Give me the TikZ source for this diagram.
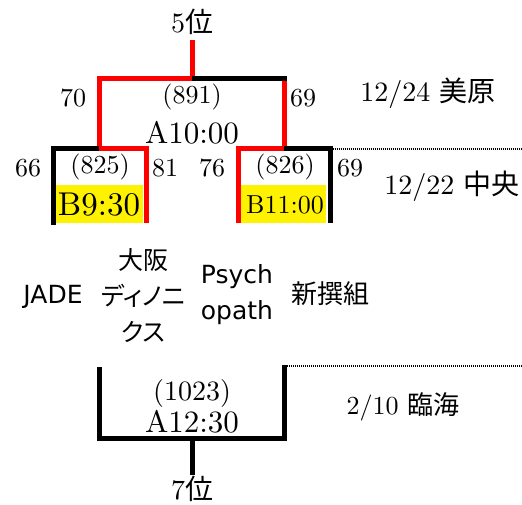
\documentclass[tikz,border=0pt]{standalone}
\usepackage{fontspec}
\setmainfont{lmroman10-regular.otf}
\newfontfamily\jp{Noto Sans CJK JP}
\newfontfamily\jpnarrow[RawFeature=+palt]{Noto Sans CJK JP}
\newfontfamily\latinsans{DejaVu Sans}
\tikzset{
  win/.style={red, line width=5pt},
  lose/.style={black, line width=5pt},
  dayline/.style={black, line width=1.6pt, dash pattern=on 1pt off 1pt},
  score/.style={inner sep=0pt, font=\fontsize{26}{28}\selectfont},
  match/.style={inner sep=0pt, font=\fontsize{31}{33}\selectfont},
  place/.style={inner sep=0pt, font=\fontsize{28}{30}\selectfont},
  team/.style={inner sep=0pt, align=center, font=\jp\fontsize{25}{36}\selectfont},
}
\begin{document}
\begin{tikzpicture}[x=1pt, y=-1pt]
\useasboundingbox (0,0) rectangle (522,505);

% yellow boxes
\fill[yellow] (56,185) rectangle (143,223);
\fill[yellow] (241,185) rectangle (326,223);

% corners of the brackets
\coordinate (top) at (192,43);
\coordinate (fmid) at (192,79);
\coordinate (fl) at (99,79);
\coordinate (fr) at (284,79);
\coordinate (lmid) at (99,149);
\coordinate (rmid) at (284,149);
\coordinate (ltl) at (53,149);
\coordinate (lbl) at (53,223);
\coordinate (ltr) at (146,149);
\coordinate (lbr) at (146,223);
\coordinate (rtl) at (238,149);
\coordinate (rbl) at (238,223);
\coordinate (rtr) at (330,149);
\coordinate (rbr) at (330,223);

% Top bracket (12/24)
\draw[win, line cap=rect] (top) -- (fmid) -- (fl) -- (lmid);
\draw[win] ([yshift=2.5]fr) -- (rmid);
\draw[lose] (fmid) -- ([xshift=2.5]fr);

% Left box (825)
\draw[lose, line cap=rect] (lbl) -- (ltl) -- (lmid);
\draw[win] (lmid) -- (ltr) -- (lbr);

% Right box (826)
\draw[win] (rbl) -- (rtl) -- (rmid);
\draw[lose] (rmid) -- (rtr) -- (rbr);

% day lines
\coordinate (d1) at (522,149);
\coordinate (d2a) at (287,366);
\coordinate (d2) at (522,366);
\draw[dayline] ([xshift=2.5]rtr) -- (d1);
\draw[dayline] (d2a) -- (d2);

\node (rank5) at (192,22) [place] {5{\jp 位}};
\node (s70) at (73,98) [score] {70};
\node (s69a) at (303,98) [score] {69};
\node (g891) at (192,97) [score] {(891)};
\node (tA1) at (192,133) [match] {A10:00};
\node (day1) at (428,93) [place] {12/24 {\jp 美原}};

\node (s66) at (28,168) [score] {66};
\node (g825) at (100,167) [score] {(825)};
\node (s81) at (165,168) [score] {81};
\node (tB1) at (99,205) [match, font=\fontsize{33}{35}\selectfont] {B9:30};
\node (s76) at (212,168) [score] {76};
\node (g826) at (285,167) [score] {(826)};
\node (s69b) at (350,168) [score] {69};
\node (tB2) at (285,205) [score] {B11:00};
\node (day2) at (452,186) [place] {12/22 {\jp 中央}};

% teams
\node (jade) at (53,297) [team] {\latinsans JADE};
\node (osaka) at (143,296) [team] {大阪\\{\jpnarrow ディノニ}\\{\jpnarrow クス}};
\node (psycho) at (237,295) [team] {\latinsans Psych\\\latinsans opath};
\node (shinsen) at (330,294) [team, font=\jp\fontsize{26}{36}\selectfont] {新撰組};

% Bottom bracket (2/10)
\coordinate (bl) at (99,367);
\coordinate (bbl) at (99,438);
\coordinate (bbm) at (192,438);
\coordinate (bbr) at (284,438);
\coordinate (br) at (284,365);
\coordinate (bot) at (192,475);
\draw[lose] (bl) -- (bbl) -- (bbr) -- (br);
\draw[lose] (bbm) -- (bot);

\node (g1023) at (192,393) [place] {(1023)};
\node (tA2) at (192,422) [match] {A12:30};
\node (day3) at (403,407) [score] {2/10 {\jp 臨海}};
\node (rank7) at (192,489) [place] {7{\jp 位}};

\end{tikzpicture}
\end{document}
